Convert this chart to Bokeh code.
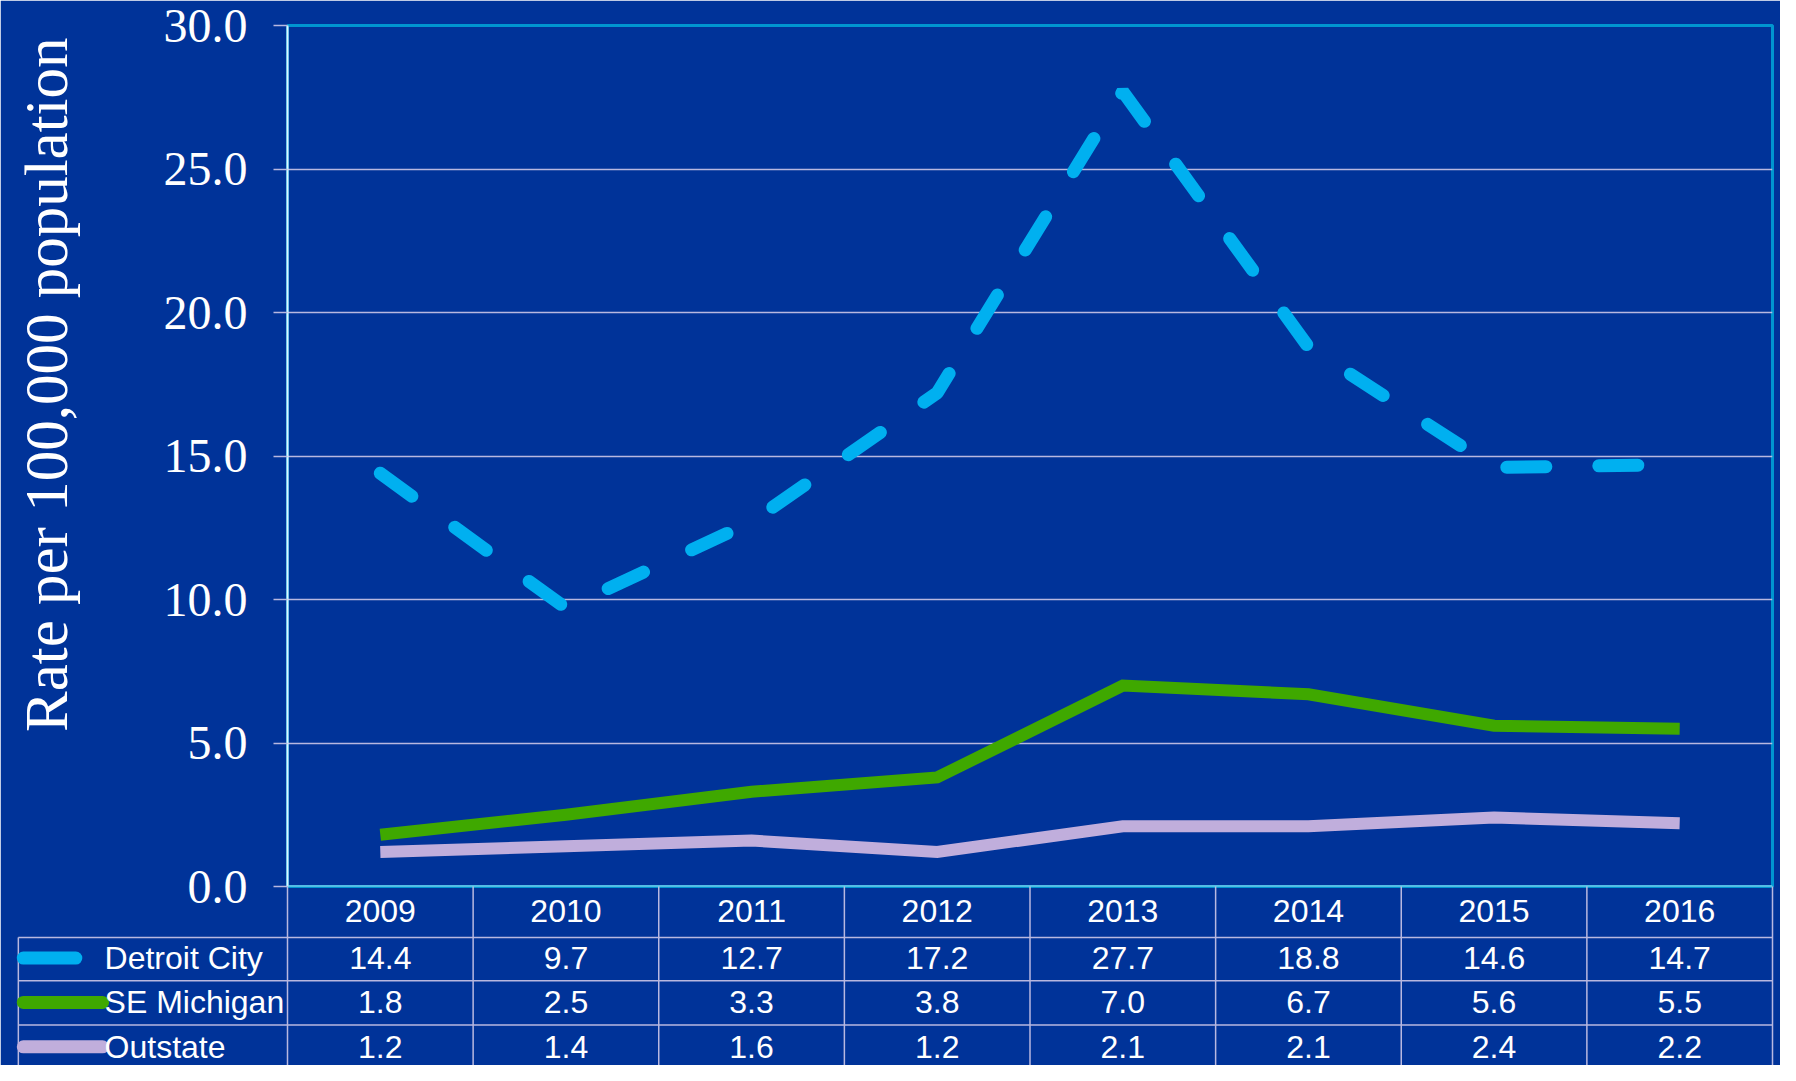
import math
from bokeh.plotting import figure
from bokeh.models import Range1d, FixedTicker, PrintfTickFormatter, Span
from bokeh.core.properties import value
from bokeh.embed import file_html
from bokeh.resources import INLINE

# ---- data ----
years = ["2009", "2010", "2011", "2012", "2013", "2014", "2015", "2016"]
detroit_city = [14.4, 9.7, 12.7, 17.2, 27.7, 18.8, 14.6, 14.7]
se_michigan = [1.8, 2.5, 3.3, 3.8, 7.0, 6.7, 5.6, 5.5]
outstate = [1.2, 1.4, 1.6, 1.2, 2.1, 2.1, 2.4, 2.2]
series_names = ["Detroit City", "SE Michigan", "Outstate"]
y_ticks = [0, 5, 10, 15, 20, 25, 30]
y_label = "Rate per 100,000 population"

# ---- style ----
BG = "#003399"
C_DET = "#00B0F0"
C_SE = "#3FA800"
C_OUT = "#C0AEDC"
GRID = "#B8B8E0"
WHITE = "#FFFFFF"

W, H = 1780, 1065
SX, SY = W / 1796, H / 1081          # layout scale from the 1796x1081 design
BL = round(290 * SX)
BR = W - round(1788 * SX)
BT = round(25 * SY)
BB = H - round(899 * SY)
FRAME_W = W - BL - BR
FRAME_H = H - BT - BB
YMAX = 30.0
PX_Y = YMAX / FRAME_H
COL_PX = FRAME_W / len(years)


def dx(px):   # design pixel x -> data x
    return (px * SX - BL) / COL_PX


def dy(py):   # design pixel y -> data y
    return (BT + FRAME_H - py * SY) * PX_Y


p = figure(width=W, height=H, output_backend="svg", toolbar_location=None,
           x_range=Range1d(0, len(years)), y_range=Range1d(0, YMAX),
           min_border_left=BL, min_border_right=BR, min_border_top=BT, min_border_bottom=BB)
p.background_fill_color = BG
p.border_fill_color = BG
p.outline_line_color = "#0096D0"
p.outline_line_width = 3

p.xaxis.visible = False
p.xgrid.visible = False
p.ygrid.grid_line_color = GRID
p.ygrid.grid_line_width = 1.5
p.ygrid.ticker = FixedTicker(ticks=y_ticks)

ya = p.yaxis[0]
ya.ticker = FixedTicker(ticks=y_ticks)
ya.formatter = PrintfTickFormatter(format="%.1f")
ya.major_label_text_font = "Liberation Serif"
ya.major_label_text_font_size = "48px"
ya.major_label_text_color = WHITE
ya.major_label_standoff = 26
ya.major_tick_out = 14
ya.major_tick_in = 0
ya.major_tick_line_color = GRID
ya.major_tick_line_width = 1.5
ya.minor_tick_line_color = None
ya.axis_line_color = "#E0F4FF"
ya.axis_line_width = 2

# rotated y-axis title
p.text(x=[dx(46)], y=[dy(390)], text=[y_label], angle=math.pi / 2,
       text_font=value("Liberation Serif"), text_font_size="61px",
       text_color=WHITE, text_align="center", text_baseline="middle", level="annotation")

p.add_layout(Span(location=0, dimension="width", line_color="#A8E4FA", line_width=2))

xs = [i + 0.5 for i in range(len(years))]
p.line(xs, detroit_city, line_color=C_DET, line_width=13, line_dash="39 53", line_cap="round")
p.line(xs, se_michigan, line_color=C_SE, line_width=12, line_join="miter")
p.line(xs, outstate, line_color=C_OUT, line_width=12, line_join="miter")

# ---- data table under the plot ----
row_lines = [dy(951), dy(995), dy(1040)]
row_mid = [dy(972), dy(1017), dy(1062)]
head_mid = dy(924)
y_bottom = dy(1100)
x_left = dx(18)

vx = list(range(len(years) + 1))
p.segment(x0=vx, y0=[0] * len(vx), x1=vx, y1=[y_bottom] * len(vx),
          line_color=GRID, line_width=1.5, level="annotation")
p.segment(x0=[x_left], y0=[row_lines[0]], x1=[x_left], y1=[y_bottom],
          line_color=GRID, line_width=1.5, level="annotation")
p.segment(x0=[x_left] * 3, y0=row_lines, x1=[len(years)] * 3, y1=row_lines,
          line_color=GRID, line_width=1.5, level="annotation")

tfont = value("Liberation Sans")
p.text(x=xs, y=[head_mid] * len(years), text=years,
       text_font=tfont, text_font_size="32px", text_color=WHITE,
       text_align="center", text_baseline="middle", level="annotation")
for r, vals in enumerate([detroit_city, se_michigan, outstate]):
    p.text(x=xs, y=[row_mid[r]] * len(years), text=[f"{v:.1f}" for v in vals],
           text_font=tfont, text_font_size="32px", text_color=WHITE,
           text_align="center", text_baseline="middle", level="annotation")

# legend column
key_colors = [C_DET, C_SE, C_OUT]
p.segment(x0=[dx(23)] * 3, y0=row_mid, x1=[dx(76), dx(103), dx(103)], y1=row_mid,
          line_color=key_colors, line_width=13, line_cap="round", level="annotation")
p.text(x=[dx(105)] * 3, y=row_mid, text=series_names,
       text_font=tfont, text_font_size="32px", text_color=WHITE,
       text_align="left", text_baseline="middle", level="annotation")

open("out.html", "w").write(file_html(p, INLINE))
